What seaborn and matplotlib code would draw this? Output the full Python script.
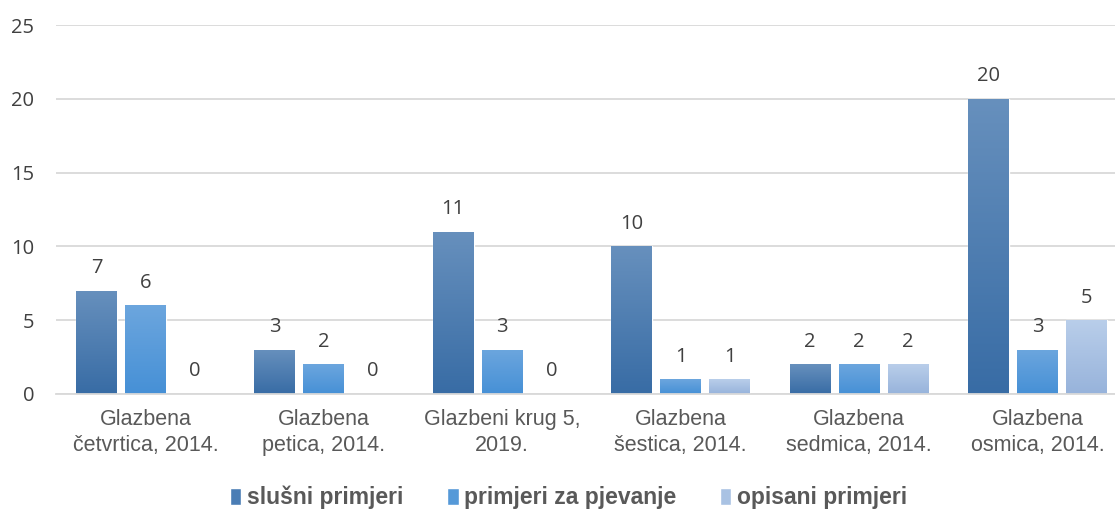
import matplotlib
matplotlib.use("Agg")
import matplotlib.pyplot as plt
from matplotlib.colors import LinearSegmentedColormap
import numpy as np
import pandas as pd
import seaborn as sns

# podaci
kategorije = ["Glazbena\nčetvrtica, 2014.", "Glazbena\npetica, 2014.", "Glazbeni krug 5,\n2019.",
              "Glazbena\nšestica, 2014.", "Glazbena\nsedmica, 2014.", "Glazbena\nosmica, 2014."]
serije = ["slušni primjeri", "primjeri za pjevanje", "opisani primjeri"]
slusni = [7, 3, 11, 10, 2, 20]
pjevanje = [6, 2, 3, 1, 2, 3]
opisani = [0, 0, 0, 1, 2, 5]
boje = ["#4A7DB5", "#5599D8", "#A9C2E3"]
# gradijent (vrh, dno) za svaku seriju
gradijenti = [("#6790BD", "#386CA5"), ("#6CA6DE", "#4690D6"), ("#B9CEEA", "#97B3DB")]

df = pd.DataFrame({
    "kategorija": kategorije * 3,
    "serija": [serije[0]] * 6 + [serije[1]] * 6 + [serije[2]] * 6,
    "broj": slusni + pjevanje + opisani,
})

sns.set_style("white")
plt.rcParams["font.family"] = ["Open Sans", "DejaVu Sans"]

fig = plt.figure(figsize=(11.15, 5.13), dpi=100)
ax = fig.add_axes([0.0505, 0.232, 0.96, 0.719])

sns.barplot(data=df, x="kategorija", y="broj", hue="serija", palette=boje,
            width=0.825, gap=0.165, ax=ax, legend=True, saturation=1)

# gradijent preko stupaca
grad = np.linspace(1, 0, 256).reshape(-1, 1)
for c, (vrh, dno) in zip(ax.containers, gradijenti):
    cmap = LinearSegmentedColormap.from_list("g", [dno, vrh])
    for p in c:
        h = p.get_height()
        if h <= 0:
            continue
        x0 = p.get_x()
        w = p.get_width()
        im = ax.imshow(grad, cmap=cmap, aspect="auto", extent=[x0, x0 + w, 0, h],
                       vmin=0, vmax=1, zorder=p.get_zorder() + 0.1)
        im.set_clip_path(p)

for c in ax.containers:
    ax.bar_label(c, padding=9, fontsize=14.5, color="#404040")

ax.set_ylim(0, 25)
ax.set_yticks(range(0, 26, 5))
ax.set_xlim(-0.5, 5.5)
ax.yaxis.grid(True, color="#D9D9D9", linewidth=1.3)
ax.set_axisbelow(True)
for s in ["left", "right", "top"]:
    ax.spines[s].set_visible(False)
ax.spines["bottom"].set_color("#D9D9D9")
ax.spines["bottom"].set_linewidth(1.3)
ax.tick_params(axis="both", length=0, labelcolor="#595959")
ax.tick_params(axis="y", pad=16, labelsize=14.5)
for t in ax.get_yticklabels():
    t.set_color("#404040")
ax.tick_params(axis="x", pad=11)
for t in ax.get_xticklabels():
    t.set_fontfamily("Liberation Sans")
    t.set_fontsize(15.5)
    t.set_linespacing(1.3)
ax.set_xlabel("")
ax.set_ylabel("")

handles, labels = ax.get_legend_handles_labels()
ax.get_legend().remove()
fig.legend(handles, labels, loc="center", bbox_to_anchor=(0.51, 0.03), ncol=3,
           frameon=False, handlelength=0.5, handleheight=0.8, handletextpad=0.25,
           columnspacing=1.9, prop={"family": "Liberation Sans", "weight": "bold", "size": 16.5},
           labelcolor="#595959")

fig.savefig("out.png", dpi=100)
